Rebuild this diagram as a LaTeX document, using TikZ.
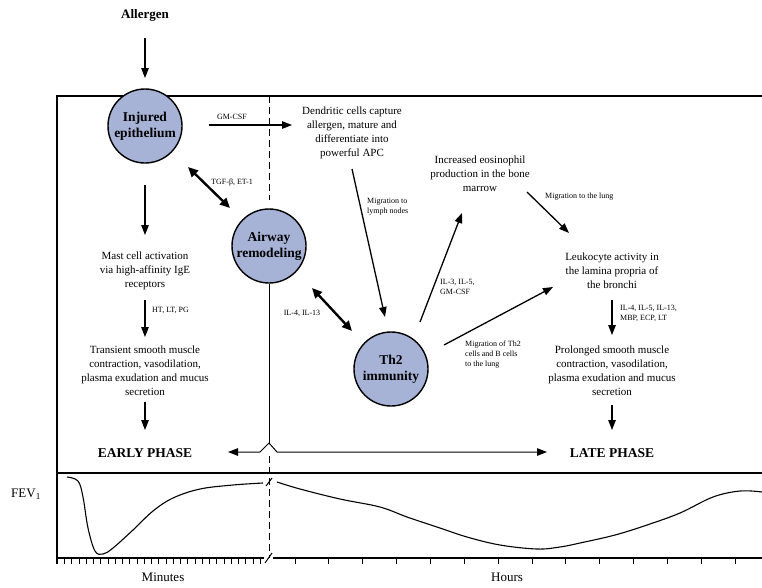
\documentclass[tikz,border=0pt]{standalone}
\usepackage{fontspec}
\setmainfont{Liberation Serif}
\usepackage{tikz}
\usetikzlibrary{arrows.meta}
\definecolor{cellblue}{RGB}{166,178,214}

\begin{document}
\begin{tikzpicture}[x=1pt, y=-1pt,
        arr/.style={-{Triangle[length=10pt,width=7.5pt]}, line width=1.3pt},
        dblarr/.style={{Triangle[length=10pt,width=9pt]}-{Triangle[length=10pt,width=9pt]}, line width=2.4pt},
        cell/.style={circle, draw, line width=1.4pt, fill=cellblue, minimum size=74pt, inner sep=0pt, align=center, font=\fontsize{13.5}{16}\selectfont\bfseries},
        txt/.style={align=center, inner sep=0pt, font=\fontsize{11}{14}\selectfont},
        lbl/.style={align=left, inner sep=0pt, font=\fontsize{8}{10}\selectfont},
        phase/.style={inner sep=0pt, font=\fontsize{13.5}{16}\selectfont\bfseries},
        axlbl/.style={inner sep=0pt, font=\fontsize{13}{16}\selectfont},
        frame/.style={line width=1.2pt},
        dsh/.style={line width=1pt, dash pattern=on 7pt off 4pt}]
    \useasboundingbox (0,0) rectangle (762,587);

    \draw[frame] (762,96) -- (57,96) -- (57,564);
    \draw[frame] (57,473) -- (762,473);

    \node[cell] (inj) at (145,126) {Injured\\epithelium};
    \node[cell] (air) at (269,246) {Airway\\remodeling};
    \node[cell] (th2) at (391,369) {Th2\\immunity};

    \node[inner sep=0pt, font=\fontsize{13}{16}\selectfont\bfseries] (allergen) at (145,15) {Allergen};
    \node[txt] (dend) at (352,133) {Dendritic cells capture\\allergen, mature and\\differentiate into\\powerful APC};
    \node[txt] (mast) at (145,271) {Mast cell activation\\via high-affinity IgE\\receptors};
    \node[txt] (trans) at (145,371) {Transient smooth muscle\\contraction, vasodilation,\\plasma exudation and mucus\\secretion};
    \node[txt] (eos) at (480,174) {Increased eosinophil\\production in the bone\\marrow};
    \node[txt] (leuk) at (612,271) {Leukocyte activity in\\the lamina propria of\\the bronchi};
    \node[txt] (prol) at (612,371) {Prolonged smooth muscle\\contraction, vasodilation,\\plasma exudation and mucus\\secretion};
    \node[phase] (early) at (145,453) {EARLY PHASE};
    \node[phase] (late) at (612,453) {LATE PHASE};

    \node[lbl] (gmlbl) at (232,117) {GM-CSF};
    \node[lbl] (tgflbl) at (232,183) {TGF-β, ET-1};
    \node[lbl, anchor=west] (htlbl) at (152,310) {HT, LT, PG};
    \node[lbl] (il4lbl) at (302,313) {IL-4, IL-13};
    \node[lbl, anchor=west] (lymphlbl) at (367,207) {Migration to\\lymph nodes};
    \node[lbl, anchor=west] (il3lbl) at (440,287) {IL-3, IL-5,\\GM-CSF};
    \node[lbl, anchor=west] (lunglbl) at (545,197) {Migration to the lung};
    \node[lbl, anchor=west] (tcelllbl) at (465,355) {Migration of Th2\\cells and B cells\\to the lung};
    \node[lbl, anchor=west] (il5lbl) at (620,313) {IL-4, IL-5, IL-13,\\MBP, ECP, LT};

    \draw[arr] ([shift={(0,23)}]allergen.center) -- ([shift={(0,-48)}]inj.center);
    \draw[arr] ([shift={(64,-1)}]inj.center) -- ([shift={(-60,-8)}]dend.center);
    \draw[dblarr] ([shift={(43,41)}]inj.center) -- ([shift={(-39,-38)}]air.center);
    \draw[arr] ([shift={(0,59)}]inj.center) -- ([shift={(0,-36)}]mast.center);
    \draw[arr] ([shift={(0,29)}]mast.center) -- ([shift={(0,-34)}]trans.center);
    \draw[arr] ([shift={(0,31)}]trans.center) -- ([shift={(0,-23)}]early.center);
    \draw[dblarr] ([shift={(43,42)}]air.center) -- ([shift={(-39,-38)}]th2.center);
    \draw[arr] ([shift={(0,36)}]dend.center) -- ([shift={(-6,-52)}]th2.center);
    \draw[arr] ([shift={(29,-47)}]th2.center) -- ([shift={(-18,39)}]eos.center);
    \draw[arr] ([shift={(47,18)}]eos.center) -- ([shift={(-43,-38)}]leuk.center);
    \draw[arr] ([shift={(53,-24)}]th2.center) -- ([shift={(-59,16)}]leuk.center);
    \draw[arr] ([shift={(0,29)}]leuk.center) -- ([shift={(0,-36)}]prol.center);
    \draw[arr] ([shift={(0,34)}]prol.center) -- ([shift={(0,-23)}]late.center);

    \coordinate (ftop) at (269,96);
    \coordinate (split) at (269,443);
    \coordinate (brk) at (269,482);
    \coordinate (axbrk) at (269,558);
    \draw[dsh] (ftop) -- ([shift={(0,-8)}]air.north);
    \draw[line width=1pt] (air.south) -- (split);
    \draw[arr, line width=1pt] (split) -- ++(-9,9) -- ([shift={(83,-1)}]early.center);
    \draw[arr, line width=1pt] (split) -- ++(8,9) -- ([shift={(-65,-1)}]late.center);
    \draw[dsh] ([shift={(0,13)}]split) -- (axbrk);
    \draw[line width=1pt] ([shift={(-3,4)}]brk) -- ([shift={(3,-4)}]brk);
    \draw[line width=1pt] ([shift={(-4,5)}]axbrk) -- ([shift={(3,-5)}]axbrk);

    \node[axlbl] (fev) at (26,494) {FEV\textsubscript{1}};
    \draw[line width=1.1pt] plot[smooth, tension=0.6] coordinates {(67,477) (78,481) (83,497) (88,528) (95,551) (103,554) (113,548) (133,530) (153,511) (173,498) (200,489) (233,485) (263,483)};
    \draw[line width=1.1pt] plot[smooth, tension=0.6] coordinates {(277,482) (300,489) (340,499) (380,507) (407,517) (440,528) (467,537) (500,545) (537,549) (560,547) (580,543) (615,535) (647,525) (680,513) (713,497) (740,491) (762,492)};

    \draw[frame] (57,558) -- ([shift={(-5,0)}]axbrk);
    \draw[frame] ([shift={(4,0)}]axbrk) -- (762,558);
    \foreach \i in {0,...,28}
        \draw[line width=0.9pt] ({57.3+7.25*\i},558) -- ++(0,6);
    \foreach \i in {0,...,13}
        \draw[line width=0.9pt] ({295+33.85*\i},558) -- ++(0,6);
    \node[axlbl] (minutes) at (163,577) {Minutes};
    \node[axlbl] (hours) at (507,577) {Hours};
\end{tikzpicture}
\end{document}
